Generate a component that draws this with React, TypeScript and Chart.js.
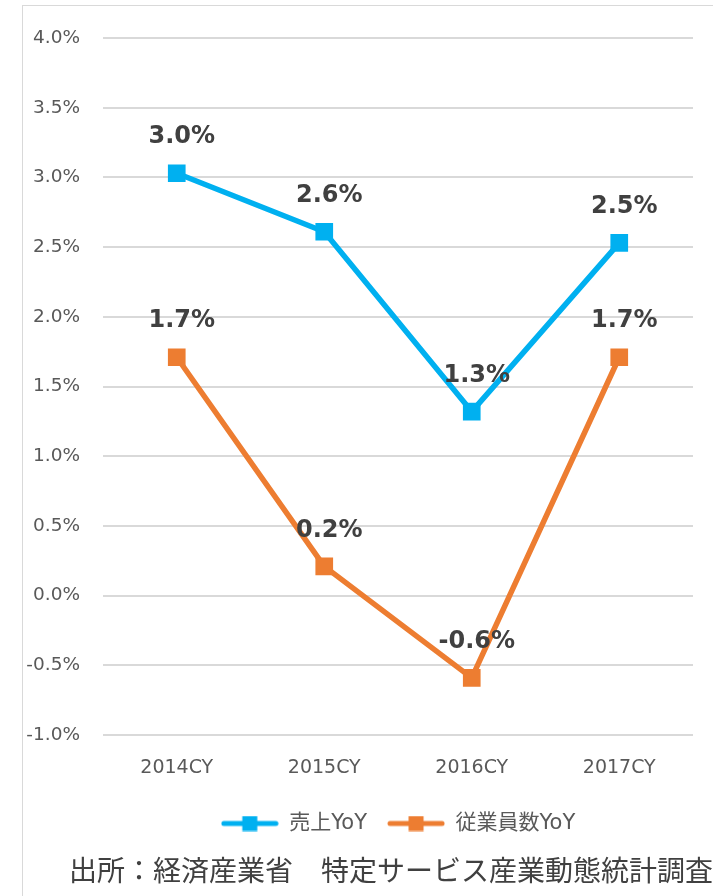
import React, { useEffect, useRef } from "react";
import { Chart, registerables } from "chart.js";

Chart.register(...registerables);

const categories = ["2014CY", "2015CY", "2016CY", "2017CY"];
const salesYoY = [3.03, 2.61, 1.32, 2.53];
const employeesYoY = [1.71, 0.21, -0.59, 1.71];
const seriesNames = ["売上YoY", "従業員数YoY"];
const seriesColors = ["#00B0F0", "#ED7D31"];
const yMin = -1;
const yMax = 4;
const yStep = 0.5;
const sourceText = "出所：経済産業省　特定サービス産業動態統計調査";

const FONT = "'DejaVu Sans', 'Noto Sans CJK JP', sans-serif";

function legendIcon(color: string): HTMLCanvasElement {
  const c = document.createElement("canvas");
  c.width = 58;
  c.height = 16;
  const ctx = c.getContext("2d")!;
  ctx.strokeStyle = color;
  ctx.lineWidth = 5;
  ctx.lineCap = "round";
  ctx.beginPath();
  ctx.moveTo(3, 8);
  ctx.lineTo(55, 8);
  ctx.stroke();
  ctx.fillStyle = color;
  ctx.fillRect(29 - 7.5, 0.5, 15, 15);
  return c;
}

const dataLabelPlugin = {
  id: "dataLabels",
  afterDatasetsDraw(chart: any) {
    const ctx = chart.ctx;
    ctx.save();
    ctx.font = `bold 24px ${FONT}`;
    ctx.fillStyle = "#404040";
    ctx.textAlign = "center";
    ctx.textBaseline = "middle";
    chart.data.datasets.forEach((ds: any, di: number) => {
      const meta = chart.getDatasetMeta(di);
      meta.data.forEach((pt: any, i: number) => {
        const v = ds.data[i] as number;
        ctx.fillText(v.toFixed(1) + "%", pt.x + 5, pt.y - 36);
      });
    });
    ctx.restore();
  },
};

export default function App() {
  const ref = useRef<HTMLCanvasElement>(null);
  useEffect(() => {
    const icons = seriesColors.map((c) => legendIcon(c));
    const chart = new Chart(ref.current!, {
      type: "line",
      data: {
        labels: categories,
        datasets: [
          {
            label: seriesNames[0],
            data: salesYoY,
            borderColor: seriesColors[0],
            backgroundColor: seriesColors[0],
            borderWidth: 5.5,
            pointStyle: "rect",
            pointRadius: 12.5,
            pointBorderWidth: 0,
            pointBackgroundColor: seriesColors[0],
            tension: 0,
            borderCapStyle: "round",
            borderJoinStyle: "round",
          },
          {
            label: seriesNames[1],
            data: employeesYoY,
            borderColor: seriesColors[1],
            backgroundColor: seriesColors[1],
            borderWidth: 5.5,
            pointStyle: "rect",
            pointRadius: 12.5,
            pointBorderWidth: 0,
            pointBackgroundColor: seriesColors[1],
            tension: 0,
            borderCapStyle: "round",
            borderJoinStyle: "round",
          },
        ],
      },
      options: {
        responsive: false,
        animation: false,
        layout: { padding: { left: 0, right: 20, top: 38, bottom: 52 } },
        scales: {
          x: {
            offset: true,
            grid: { display: false, drawTicks: false },
            border: { display: false },
            ticks: {
              color: "#595959",
              font: { family: FONT, size: 19 },
              padding: 22,
            },
            afterFit: (s: any) => {
              s.height = 58;
            },
          },
          y: {
            min: yMin,
            max: yMax,
            grid: { color: "#d9d9d9", lineWidth: 2, drawTicks: false },
            border: { display: false },
            ticks: {
              stepSize: yStep,
              color: "#595959",
              font: { family: FONT, size: 18.5 },
              padding: 23,
              callback: (v: any) => Number(v).toFixed(1) + "%",
            },
            afterFit: (s: any) => {
              s.width = 103;
            },
          },
        },
        plugins: {
          tooltip: { enabled: false },
          legend: {
            position: "bottom",
            fullSize: false,
            labels: {
              color: "#595959",
              font: { family: FONT, size: 21 },
              usePointStyle: true,
              pointStyleWidth: 58,
              padding: 20,
              generateLabels: (c: any) => {
                const items = Chart.defaults.plugins.legend.labels.generateLabels(c);
                return items.map((it: any, i: number) => ({ ...it, pointStyle: icons[i] }));
              },
            },
          },
        },
      },
      plugins: [dataLabelPlugin],
    });
    return () => chart.destroy();
  }, []);

  return (
    <div style={{ position: "absolute", left: 0, top: 0, width: 713, height: 896, overflow: "hidden", background: "#fff" }}>
      <div
        style={{
          position: "absolute",
          left: 22,
          top: 5,
          width: 720,
          height: 920,
          border: "1px solid #d9d9d9",
          boxSizing: "border-box",
        }}
      />
      <canvas ref={ref} width={713} height={896} style={{ position: "absolute", left: 0, top: 0, width: 713, height: 896 }} />
      <div
        style={{
          position: "absolute",
          left: 69,
          top: 855,
          fontFamily: "'Noto Sans CJK JP', sans-serif",
          fontSize: 28,
          lineHeight: "28px",
          color: "#404040",
          whiteSpace: "nowrap",
        }}
      >
        {sourceText}
      </div>
    </div>
  );
}
